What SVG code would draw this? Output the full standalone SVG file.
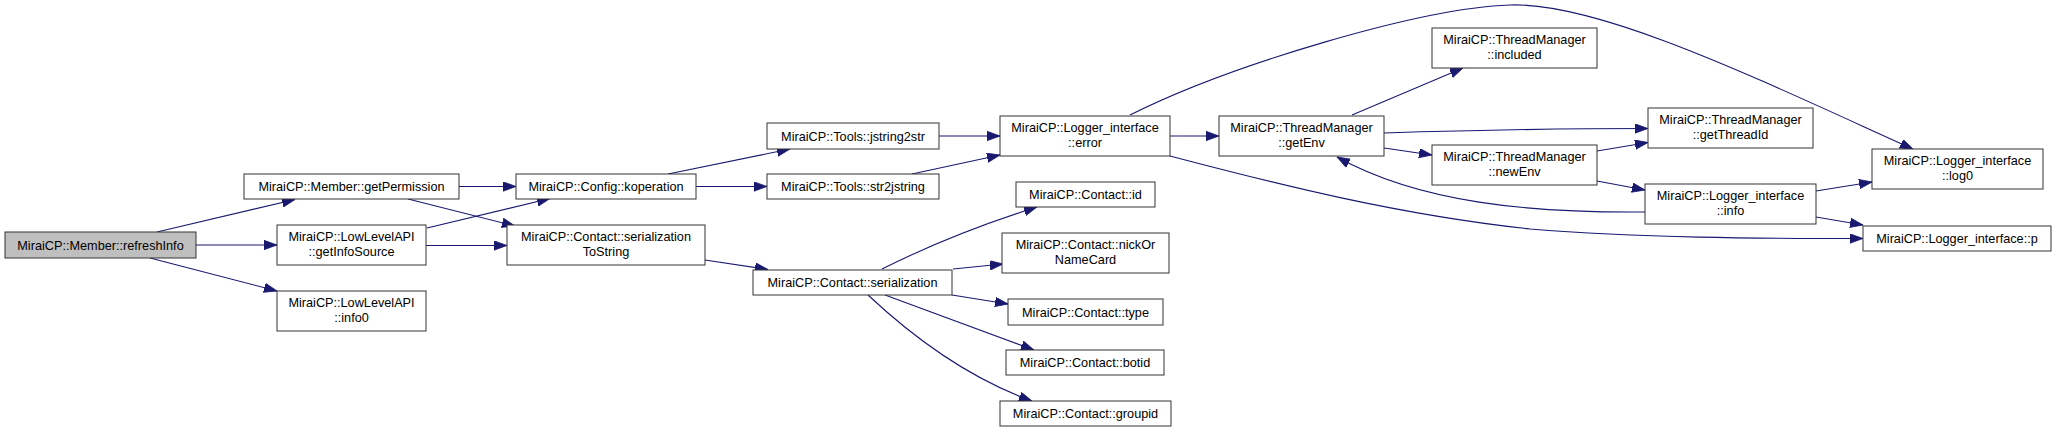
<svg xmlns="http://www.w3.org/2000/svg" width="2056" height="432" viewBox="0 0 2056 432">
<style>
.n rect{fill:#fff;stroke:#333;stroke-width:1}
.n.cur rect{fill:#bfbfbf}
.n text{font-family:"Liberation Sans",Arial,sans-serif;font-size:12.7px;fill:#000;text-anchor:middle}
#edges path{fill:none;stroke:#191970;stroke-width:1.1;marker-end:url(#ah)}
</style>
<defs>
<marker id="ah" markerUnits="userSpaceOnUse" markerWidth="14" markerHeight="10" refX="13" refY="4.7" orient="auto">
<path d="M0,0 L13,4.7 L0,9.4 z" fill="#191970" stroke="#191970" stroke-width="0.8"/>
</marker>
</defs>
<rect width="2056" height="432" fill="#fff"/>
<g id="edges">
<path d="M157,232 L295,199.5"/>
<path d="M196,245 L277,245"/>
<path d="M150,258 L277,291"/>
<path d="M459,186.5 L516,186.5"/>
<path d="M408,199 L515,226"/>
<path d="M427,228 L550,198.5"/>
<path d="M426,245.5 L507,245.5"/>
<path d="M668,174 L790,149"/>
<path d="M696,186.5 L767,186.5"/>
<path d="M705,260 L768,269.5"/>
<path d="M939,136 L1000,136"/>
<path d="M912,174 L1000,155"/>
<path d="M1170,136 L1219,136"/>
<path d="M1130,115 C1230,65 1420,8 1510,5 C1600,2 1760,80 1913,149"/>
<path d="M1170,156 C1280,185 1400,215 1530,229 C1640,238 1760,238.5 1863,238.5"/>
<path d="M1352,115 L1463,68"/>
<path d="M1384,133 C1480,130 1560,128.5 1648,128.5"/>
<path d="M1384,148 L1432,155"/>
<path d="M1597,151 L1648,142.5"/>
<path d="M1597,181 L1645,190"/>
<path d="M1645,212 C1530,213 1420,203 1337,157"/>
<path d="M1816,191 L1872,182"/>
<path d="M1816,217 L1863,225"/>
<path d="M882,269 C930,245 980,225 1037,207"/>
<path d="M953,269 L1003,264"/>
<path d="M952,295 L1008,304"/>
<path d="M885,295 L1034,350"/>
<path d="M868,295 C900,325 960,375 1032,401"/>
</g>
<g id="refreshInfo" class="n cur"><rect x="5" y="232" width="191" height="26"/><text x="100.5" y="249.5">MiraiCP::Member::refreshInfo</text></g>
<g id="getPermission" class="n"><rect x="244" y="174" width="215" height="25"/><text x="351.5" y="191">MiraiCP::Member::getPermission</text></g>
<g id="getInfoSource" class="n"><rect x="277" y="225" width="149" height="40"/><text x="351.5" y="241.2">MiraiCP::LowLevelAPI</text><text x="351.5" y="256.2">::getInfoSource</text></g>
<g id="info0" class="n"><rect x="277" y="291" width="149" height="40"/><text x="351.5" y="307.2">MiraiCP::LowLevelAPI</text><text x="351.5" y="322.2">::info0</text></g>
<g id="koperation" class="n"><rect x="516" y="174" width="180" height="25"/><text x="606" y="191">MiraiCP::Config::koperation</text></g>
<g id="serializationToString" class="n"><rect x="507" y="225" width="198" height="40"/><text x="606" y="241.2">MiraiCP::Contact::serialization</text><text x="606" y="256.2">ToString</text></g>
<g id="jstring2str" class="n"><rect x="767" y="123" width="172" height="26"/><text x="853" y="140.5">MiraiCP::Tools::jstring2str</text></g>
<g id="str2jstring" class="n"><rect x="767" y="174" width="172" height="25"/><text x="853" y="191">MiraiCP::Tools::str2jstring</text></g>
<g id="serialization" class="n"><rect x="753" y="270" width="199" height="25"/><text x="852.5" y="287">MiraiCP::Contact::serialization</text></g>
<g id="error" class="n"><rect x="1000" y="116" width="170" height="40"/><text x="1085" y="132.2">MiraiCP::Logger_interface</text><text x="1085" y="147.2">::error</text></g>
<g id="contactId" class="n"><rect x="1016" y="182" width="139" height="25"/><text x="1085.5" y="199">MiraiCP::Contact::id</text></g>
<g id="nickOrNameCard" class="n"><rect x="1002" y="233" width="167" height="40"/><text x="1085.5" y="249.2">MiraiCP::Contact::nickOr</text><text x="1085.5" y="264.2">NameCard</text></g>
<g id="contactType" class="n"><rect x="1008" y="299" width="155" height="26"/><text x="1085.5" y="316.5">MiraiCP::Contact::type</text></g>
<g id="botid" class="n"><rect x="1006" y="350" width="158" height="25"/><text x="1085" y="367">MiraiCP::Contact::botid</text></g>
<g id="groupid" class="n"><rect x="1000" y="401" width="171" height="25"/><text x="1085.5" y="418">MiraiCP::Contact::groupid</text></g>
<g id="getEnv" class="n"><rect x="1219" y="116" width="165" height="40"/><text x="1301.5" y="132.2">MiraiCP::ThreadManager</text><text x="1301.5" y="147.2">::getEnv</text></g>
<g id="included" class="n"><rect x="1432" y="28" width="165" height="40"/><text x="1514.5" y="44.2">MiraiCP::ThreadManager</text><text x="1514.5" y="59.2">::included</text></g>
<g id="newEnv" class="n"><rect x="1432" y="145" width="165" height="40"/><text x="1514.5" y="161.2">MiraiCP::ThreadManager</text><text x="1514.5" y="176.2">::newEnv</text></g>
<g id="getThreadId" class="n"><rect x="1648" y="108" width="165" height="40"/><text x="1730.5" y="124.2">MiraiCP::ThreadManager</text><text x="1730.5" y="139.2">::getThreadId</text></g>
<g id="info" class="n"><rect x="1645" y="184" width="171" height="40"/><text x="1730.5" y="200.2">MiraiCP::Logger_interface</text><text x="1730.5" y="215.2">::info</text></g>
<g id="log0" class="n"><rect x="1872" y="149" width="171" height="40"/><text x="1957.5" y="165.2">MiraiCP::Logger_interface</text><text x="1957.5" y="180.2">::log0</text></g>
<g id="p" class="n"><rect x="1863" y="226" width="188" height="25"/><text x="1957" y="243">MiraiCP::Logger_interface::p</text></g>
</svg>
